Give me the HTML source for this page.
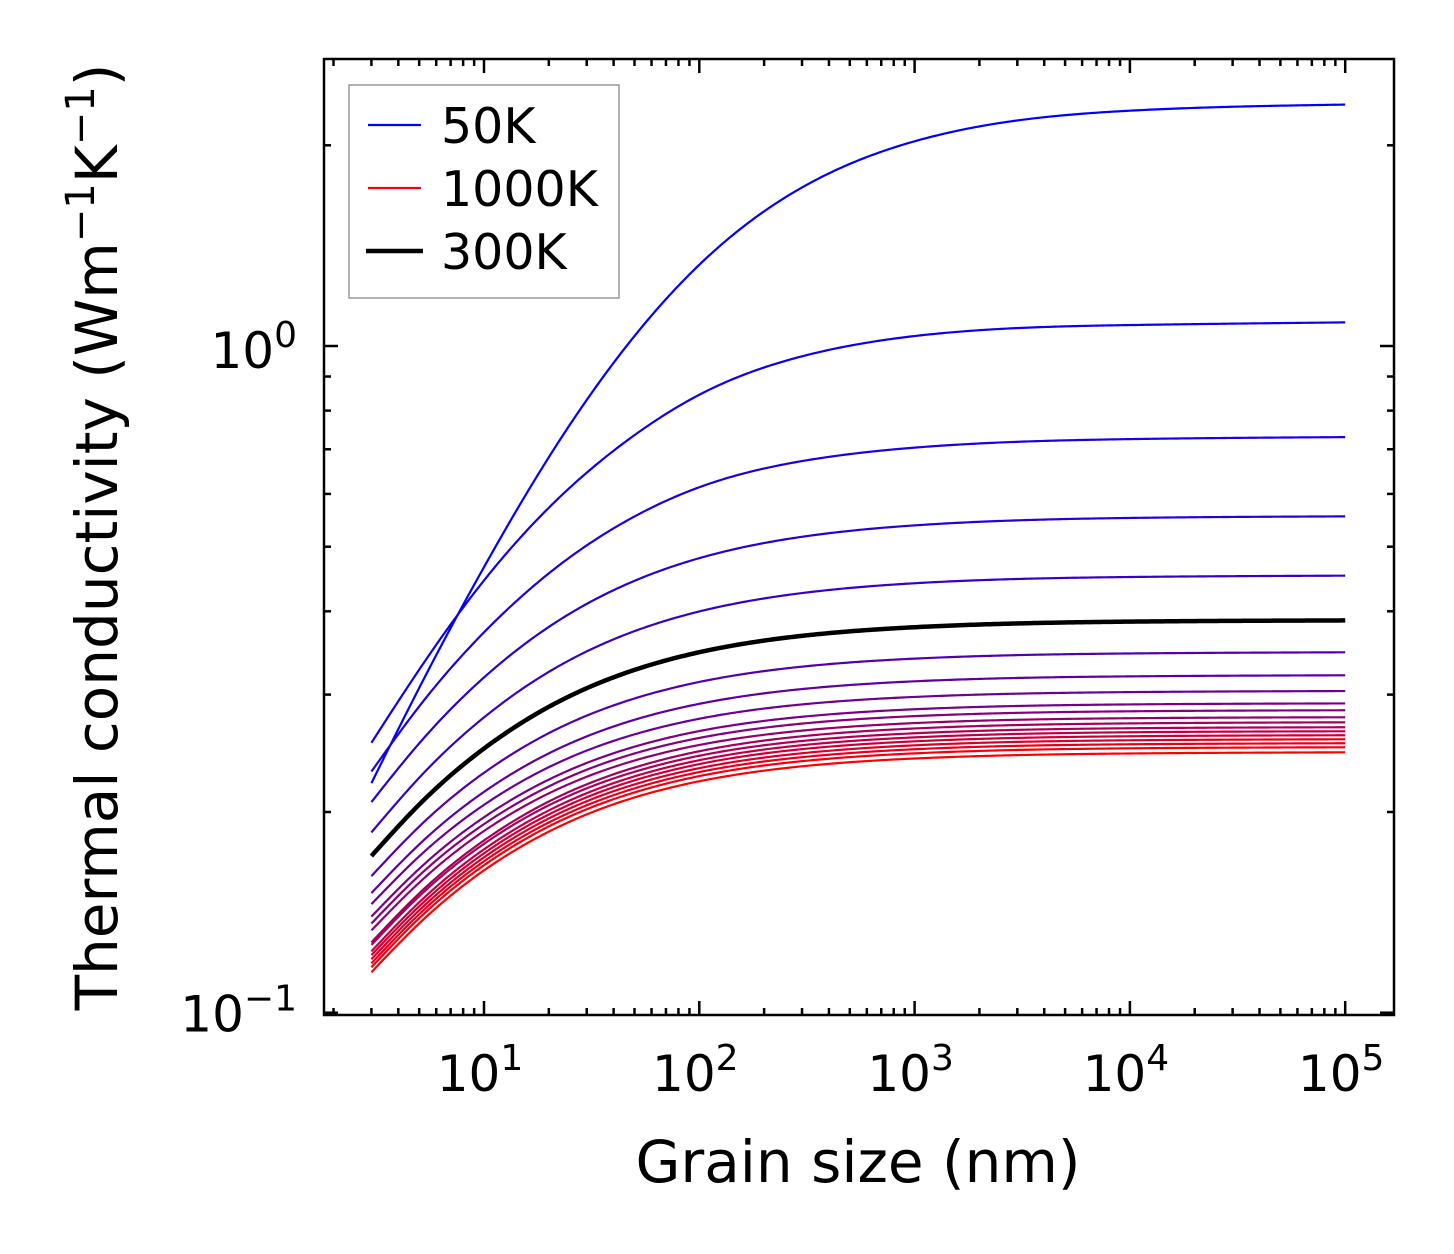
<!DOCTYPE html>
<html><head><meta charset="utf-8"><style>
html,body{margin:0;padding:0;background:#fff;}
svg{display:block;font-family:"DejaVu Sans","Liberation Sans",sans-serif;}
</style></head><body>
<svg id="chart" width="1454" height="1254" viewBox="0 0 1454 1254" xmlns="http://www.w3.org/2000/svg">
<g id="curves"></g>
<g id="ticks"></g>
<rect x="324" y="59" width="1070" height="956" fill="none" stroke="#000" stroke-width="2.5"/>
<g id="xlabels" font-size="50" text-anchor="middle"></g>
<g id="ylabels" font-size="50" text-anchor="end"></g>
<text x="858" y="1182" font-size="58" text-anchor="middle">Grain size (nm)</text>
<text transform="translate(117,537) rotate(-90)" font-size="58" text-anchor="middle">Thermal conductivity (Wm<tspan dy="-23" font-size="40">−1</tspan><tspan dy="23">K</tspan><tspan dy="-23" font-size="40">−1</tspan><tspan dy="23">)</tspan></text>
<g>
<rect x="349" y="85" width="270" height="213" fill="#fff" stroke="#999" stroke-width="1.5"/>
<line x1="368" y1="125" x2="421" y2="125" stroke="#0000ff" stroke-width="2.2"/>
<text x="441" y="143" font-size="49">50K</text>
<line x1="368" y1="188" x2="421" y2="188" stroke="#ff0000" stroke-width="2.2"/>
<text x="441" y="206" font-size="49">1000K</text>
<line x1="366" y1="251" x2="423" y2="251" stroke="#000" stroke-width="4.5"/>
<text x="441" y="269" font-size="49">300K</text>
</g>
</svg>
<script>
const grainSizes = [3, 5, 10, 20, 50, 100, 300, 1000, 10000, 100000];
const temperatures = [50,100,150,200,250,300,350,400,450,500,550,600,650,700,750,800,850,900,950,1000];
const k50 = [0.221,0.307,0.466,0.681,1.035,1.324,1.729,2.028,2.254,2.302];
const k100 = [0.254,0.327,0.445,0.572,0.735,0.845,0.965,1.035,1.075,1.085];
const k150 = [0.230,0.288,0.372,0.456,0.555,0.614,0.672,0.704,0.725,0.730];
const k200 = [0.207,0.2535,0.3183,0.379,0.4444,0.4806,0.5174,0.5382,0.5522,0.5552];
const k250 = [0.1864,0.2251,0.2773,0.3245,0.3735,0.3998,0.426,0.4407,0.4503,0.4524];
const k300 = [0.1718,0.2052,0.249,0.2876,0.3267,0.3473,0.3675,0.3786,0.386,0.3876];
const k350 = [0.1603,0.1902,0.2290,0.2626,0.2960,0.3134,0.3304,0.3397,0.3458,0.3472];
const k400 = [0.1512,0.1788,0.2144,0.2449,0.2750,0.2906,0.3058,0.3141,0.3195,0.3207];
const k450 = [0.1455,0.1716,0.2050,0.2335,0.2615,0.2760,0.2900,0.2976,0.3026,0.3037];
const k500 = [0.1394,0.1644,0.1964,0.2237,0.2506,0.2645,0.2779,0.2852,0.2900,0.2910];
const k550 = [0.1361,0.1606,0.1918,0.2185,0.2448,0.2583,0.2714,0.2785,0.2832,0.2842];
const k600 = [0.1329,0.1567,0.1873,0.2133,0.2389,0.2521,0.2649,0.2719,0.2765,0.2774];
const k650 = [0.1275,0.1510,0.1813,0.2074,0.2332,0.2467,0.2598,0.2669,0.2716,0.2726];
const k700 = [0.1264,0.1495,0.1792,0.2047,0.2298,0.2429,0.2556,0.2625,0.2671,0.2680];
const k750 = [0.1236,0.1464,0.1758,0.2011,0.2262,0.2392,0.2519,0.2588,0.2634,0.2643];
const k800 = [0.1220,0.1444,0.1734,0.1983,0.2231,0.2360,0.2485,0.2553,0.2598,0.2607];
const k850 = [0.1203,0.1424,0.1710,0.1956,0.2200,0.2327,0.2450,0.2518,0.2562,0.2571];
const k900 = [0.1186,0.1405,0.1687,0.1929,0.2170,0.2296,0.2417,0.2484,0.2527,0.2536];
const k950 = [0.1170,0.1386,0.1664,0.1903,0.2140,0.2264,0.2384,0.2449,0.2492,0.2501];
const k1000 = [0.1150,0.1361,0.1635,0.1869,0.2103,0.2224,0.2342,0.2406,0.2448,0.2458];
const series = [k50,k100,k150,k200,k250,k300,k350,k400,k450,k500,k550,k600,k650,k700,k750,k800,k850,k900,k950,k1000];
const xTickExps = [1,2,3,4,5];
const yTickExps = [0,-1];

const NS = "http://www.w3.org/2000/svg";
const X0 = 484, XDEC = 215.3;
const Y0 = 346, YDEC = 666.7;
function xs(v){ return X0 + (Math.log10(v) - 1) * XDEC; }
function ys(v){ return Y0 - Math.log10(v) * YDEC; }
function mk(tag, attrs, parent){ const e = document.createElementNS(NS, tag); for (const k in attrs) e.setAttribute(k, attrs[k]); parent.appendChild(e); return e; }

// natural cubic spline in pixel space, sampled densely
function pathFor(grid, vals){
  const x = grid.map(g=>xs(g)), y = vals.map(v=>ys(v));
  const n = x.length, h = [], al = new Array(n).fill(0);
  for (let i=0;i<n-1;i++) h.push(x[i+1]-x[i]);
  for (let i=1;i<n-1;i++) al[i] = 3/h[i]*(y[i+1]-y[i]) - 3/h[i-1]*(y[i]-y[i-1]);
  const l = new Array(n).fill(1), mu = new Array(n).fill(0), z = new Array(n).fill(0);
  for (let i=1;i<n-1;i++){ l[i] = 2*(x[i+1]-x[i-1]) - h[i-1]*mu[i-1]; mu[i] = h[i]/l[i]; z[i] = (al[i]-h[i-1]*z[i-1])/l[i]; }
  const c = new Array(n).fill(0), b = new Array(n).fill(0), d = new Array(n).fill(0);
  for (let j=n-2;j>=0;j--){ c[j] = z[j]-mu[j]*c[j+1]; b[j] = (y[j+1]-y[j])/h[j] - h[j]*(c[j+1]+2*c[j])/3; d[j] = (c[j+1]-c[j])/(3*h[j]); }
  let s = "M" + x[0].toFixed(2) + "," + y[0].toFixed(2);
  for (let j=0;j<n-1;j++){
    const steps = Math.max(2, Math.ceil(h[j]/3));
    for (let k=1;k<=steps;k++){
      const t = h[j]*k/steps;
      s += " L" + (x[j]+t).toFixed(2) + "," + (y[j]+b[j]*t+c[j]*t*t+d[j]*t*t*t).toFixed(2);
    }
  }
  return s;
}

const cg = document.getElementById("curves");
series.forEach((vals, i) => {
  const t = i / (series.length - 1);
  const col = "rgb(" + Math.round(255*t) + ",0," + Math.round(255*(1-t)) + ")";
  const el = mk("path", {d: pathFor(grainSizes, vals), fill: "none", stroke: col, "stroke-width": 2.2, "stroke-linejoin": "round"}, cg);
  
  
});
const black = mk("path", {d: pathFor(grainSizes, k300), fill: "none", stroke: "#000", "stroke-width": 4.5, "stroke-linejoin": "round"}, cg);



const tg = document.getElementById("ticks");
const L = 324, R = 1394, T = 59, B = 1015;
function tick(x1,y1,x2,y2){ const e = mk("line",{x1,y1,x2,y2,stroke:"#000","stroke-width":2.5},tg);   }
for (let e=0;e<=5;e++){
  for (let m=1;m<=9;m++){
    const v = m*Math.pow(10,e); const x = xs(v);
    if (x < L+2 || x > R-2) continue;
    const len = m===1 ? 14 : 7;
    tick(x,B,x,B-len); tick(x,T,x,T+len);
  }
}
for (let e=-1;e<=0;e++){
  for (let m=1;m<=9;m++){
    const v = m*Math.pow(10,e); const y = ys(v);
    if (y < T+2 || y > B-2) continue;
    const len = m===1 ? 14 : 7;
    tick(L,y,L+len,y); tick(R,y,R-len,y);
  }
}
const xl = document.getElementById("xlabels");
xTickExps.forEach(e => {
  const t = mk("text",{x: xs(Math.pow(10,e)) - 4, y: 1091}, xl);
  
  
  t.textContent = "10";
  const s = mk("tspan",{dy:-21,"font-size":36},t); s.textContent = String(e);
});
const yl = document.getElementById("ylabels");
yTickExps.forEach(e => {
  const lab = String(e).replace("-","−");
  const t = mk("text",{x: 297, y: ys(Math.pow(10,e)) + 22 - (e<0?3:0)}, yl);
  
  
  t.textContent = "10";
  const s = mk("tspan",{dy:-21,"font-size":36},t); s.textContent = lab;
});
</script>
</body></html>
